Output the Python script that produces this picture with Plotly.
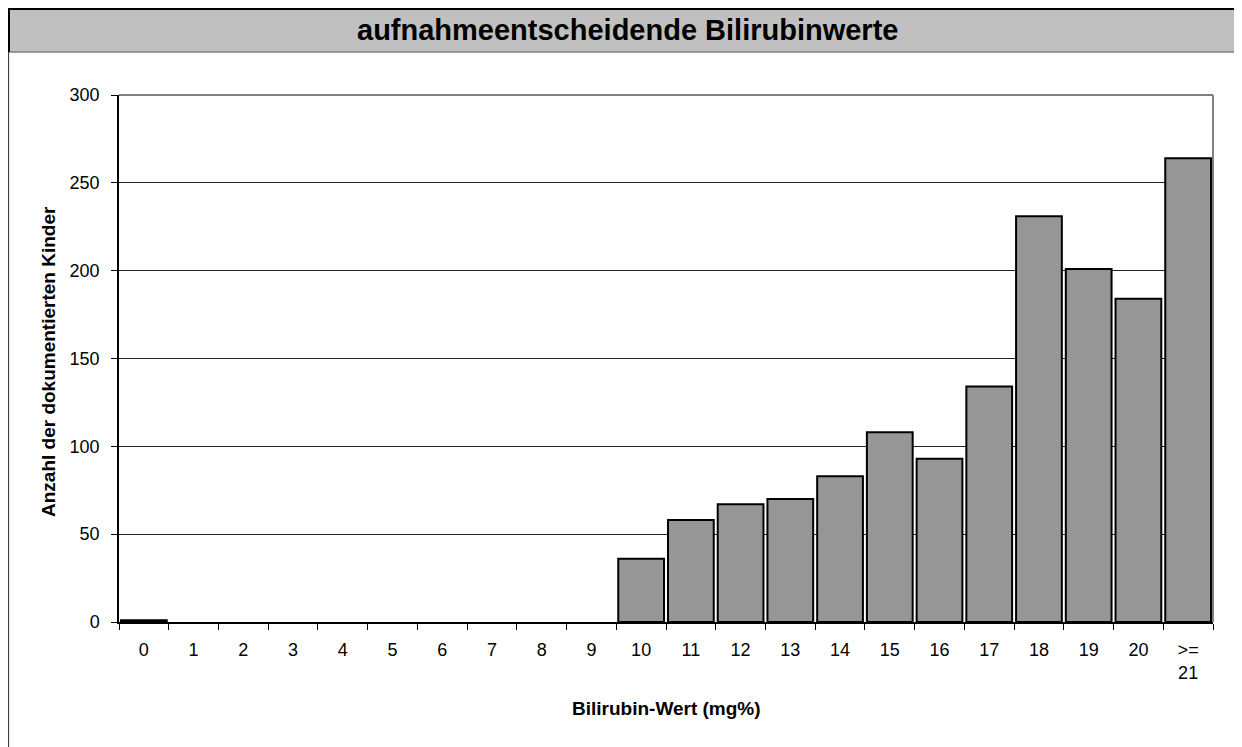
import plotly.graph_objects as go

categories = ["0", "1", "2", "3", "4", "5", "6", "7", "8", "9", "10", "11", "12",
              "13", "14", "15", "16", "17", "18", "19", "20", ">=<br>21"]
counts = [1, 0, 0, 0, 0, 0, 0, 0, 0, 0, 36, 58, 67, 70, 83, 108, 93, 134, 231, 201, 184, 264]
y_ticks = [0, 50, 100, 150, 200, 250, 300]

title_text = "aufnahmeentscheidende Bilirubinwerte"
x_title = "Bilirubin-Wert (mg%)"
y_title = "Anzahl der dokumentierten Kinder"

# figure is placed at page offset (8, 8) by the default body margin
W, H = 1234, 739
L, R, T, B = 111, 1205, 87, 614
FONT = "Liberation Sans, Arial, sans-serif"


def px(x):
    return (x - L) / (R - L)


def py(y):
    return (B - y) / (B - T)


fig = go.Figure(go.Bar(
    x=categories, y=counts,
    marker=dict(color="#969696",
                line=dict(color="black", width=[2 if v > 0 else 0 for v in counts])),
    showlegend=False,
))

shapes = [
    # title bar
    dict(type="rect", xref="paper", yref="paper", x0=px(0), x1=px(W + 5), y0=py(44), y1=py(0),
         fillcolor="#C0C0C0", line=dict(width=0), layer="below"),
    dict(type="line", xref="paper", yref="paper", x0=px(0), x1=px(W + 5), y0=py(44), y1=py(44),
         line=dict(color="#808080", width=1.5)),
    dict(type="line", xref="paper", yref="paper", x0=px(-1), x1=px(W + 5), y0=py(0.5), y1=py(0.5),
         line=dict(color="black", width=3)),
    dict(type="line", xref="paper", yref="paper", x0=px(0.5), x1=px(0.5), y0=py(-1), y1=py(44),
         line=dict(color="black", width=3)),
    # chart frame
    dict(type="line", xref="paper", yref="paper", x0=px(0.5), x1=px(0.5), y0=py(44), y1=py(H + 10),
         line=dict(color="#404040", width=1.2)),
    dict(type="line", xref="paper", yref="paper", x0=px(1230), x1=px(1230), y0=py(44), y1=py(H + 10),
         line=dict(color="black", width=2)),
    # plot area top/right border (grey)
    dict(type="line", xref="paper", yref="paper", x0=0, x1=1, y0=1, y1=1,
         line=dict(color="#808080", width=2)),
    dict(type="line", xref="paper", yref="paper", x0=1, x1=1, y0=0, y1=1,
         line=dict(color="#808080", width=2)),
]

annotations = [
    dict(text="<b>" + title_text + "</b>", xref="paper", yref="paper",
         x=px(619), y=py(22), xanchor="center", yanchor="middle", showarrow=False,
         font=dict(family=FONT, size=29, color="black")),
    dict(text="<b>" + x_title + "</b>", xref="paper", yref="paper",
         x=px(658), y=py(700), xanchor="center", yanchor="middle", showarrow=False,
         font=dict(family=FONT, size=19, color="black")),
    dict(text="<b>" + y_title + "</b>", xref="paper", yref="paper",
         x=px(40), y=py(354), xanchor="center", yanchor="middle", showarrow=False,
         textangle=-90, font=dict(family=FONT, size=19, color="black")),
]

fig.update_layout(
    width=W, height=H,
    margin=dict(l=L, r=W - R, t=T, b=H - B, pad=0),
    paper_bgcolor="white", plot_bgcolor="white",
    bargap=0.08,
    shapes=shapes, annotations=annotations,
    font=dict(family=FONT, size=18, color="black"),
)

fig.update_xaxes(
    type="category", tickson="boundaries", ticks="outside", ticklen=6,
    tickcolor="black", tickwidth=1, showline=True, linecolor="black", linewidth=2,
    showgrid=False, tickfont=dict(family=FONT, size=18, color="black"),
    ticklabelstandoff=10,
)
fig.update_yaxes(
    range=[0, 300], tickvals=y_ticks, ticks="outside", ticklen=6, tickcolor="black",
    showline=True, linecolor="black", linewidth=1.5,
    showgrid=True, gridcolor="#222222", gridwidth=1, zeroline=False,
    tickfont=dict(family=FONT, size=18, color="black"),
    ticklabelstandoff=8,
)

fig.write_html("out.html")
